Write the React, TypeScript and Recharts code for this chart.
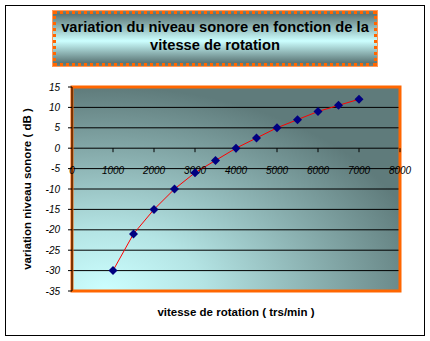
import React from "react"
import {
  LineChart,
  Line,
  XAxis,
  YAxis,
  CartesianGrid,
  ReferenceArea,
  ReferenceDot,
} from "recharts"

const speeds = [1000, 1500, 2000, 2500, 3000, 3500, 4000, 4500, 5000, 5500, 6000, 6500, 7000]
const levels = [-30, -21, -15, -10, -6, -3, 0, 2.5, 5, 7, 9, 10.5, 12]
const xTicks = [0, 1000, 2000, 3000, 4000, 5000, 6000, 7000, 8000]
const yTicks = [-35, -30, -25, -20, -15, -10, -5, 0, 5, 10, 15]

const title = ["variation du niveau sonore en fonction de la", "vitesse de rotation"]
const xTitle = "vitesse de rotation ( trs/min )"
const yTitle = "variation niveau sonore ( dB )"

const data = speeds.map((rpm, i) => ({ rpm, db: levels[i] }))

const FONT = "'Liberation Sans', Arial, sans-serif"

function Diamond(props: any) {
  const { cx, cy } = props
  if (cx == null || cy == null) return null
  return (
    <polygon
      points={`${cx},${cy - 4.5} ${cx + 4.5},${cy} ${cx},${cy + 4.5} ${cx - 4.5},${cy}`}
      fill="#000080"
    />
  )
}

function xTickShape(label: number) {
  return (props: any) => {
    const { cx, cy } = props
    return (
      <g>
        {label !== 0 && <line x1={cx} y1={cy} x2={cx} y2={cy + 4} stroke="#000" />}
        <text
          x={cx}
          y={cy + 26}
          textAnchor="middle"
          fontSize={10}
          fontStyle="italic"
          fontFamily={FONT}
          fill="#000"
        >
          {label}
        </text>
      </g>
    )
  }
}

export default function App() {
  return (
    <div
      style={{
        position: "absolute",
        left: 0,
        top: 0,
        width: 430,
        height: 341,
        background: "#fff",
        fontFamily: FONT,
      }}
    >
      <div
        style={{
          position: "absolute",
          left: 5,
          top: 5,
          width: 418,
          height: 329,
          border: "1px solid #000",
        }}
      />
      <div
        style={{
          position: "absolute",
          left: 53,
          top: 11,
          width: 318,
          height: 45,
          border: "3px dotted #ff6600",
          boxShadow: "0 0 0 1px #ff9a5a",
          background: "linear-gradient(to bottom, #5a7575 0%, #ccffff 55%, #5a7575 100%)",
          textAlign: "center",
          fontWeight: "bold",
          fontSize: 14.7,
          lineHeight: "18px",
          paddingTop: 4,
          boxSizing: "content-box",
          whiteSpace: "nowrap",
        }}
      >
        {title[0]}
        <br />
        {title[1]}
      </div>

      <LineChart
        width={430}
        height={341}
        data={data}
        margin={{ top: 87, right: 30, bottom: 50, left: 0 }}
        style={{ position: "absolute", left: 0, top: 0 }}
      >
        <defs>
          <radialGradient id="plotBg" cx="0.1" cy="1" r="1" fx="0.1" fy="1">
            <stop offset="0" stopColor="#ccffff" />
            <stop offset="0.3" stopColor="#b4e4e4" />
            <stop offset="1" stopColor="#5f7b7b" />
          </radialGradient>
        </defs>
        <CartesianGrid
          vertical={false}
          stroke="#000"
          strokeOpacity={1}
          fill="url(#plotBg)"
          fillOpacity={1}
        />
        <XAxis type="number" dataKey="rpm" domain={[0, 8000]} ticks={xTicks} hide />
        <YAxis
          type="number"
          domain={[-35, 15]}
          ticks={yTicks}
          interval={0}
          width={72}
          axisLine={{ stroke: "#000" }}
          tickLine={{ stroke: "#000" }}
          tickSize={4}
          tickMargin={8}
          tick={{ fontSize: 10, fontStyle: "italic", fontFamily: FONT, fill: "#000" }}
        />
        <ReferenceArea
          x1={0}
          x2={8000}
          y1={-35}
          y2={15}
          fill="none"
          stroke="#ff6600"
          strokeWidth={3}
        />
        {xTicks.map((t) => (
          <ReferenceDot key={t} x={t} y={0} r={0} ifOverflow="visible" shape={xTickShape(t)} />
        ))}
        <Line
          type="linear"
          dataKey="db"
          stroke="#ff0000"
          strokeWidth={1}
          dot={<Diamond />}
          activeDot={false}
          isAnimationActive={false}
        />
      </LineChart>

      <div
        style={{
          position: "absolute",
          left: 0,
          width: 472,
          top: 306,
          textAlign: "center",
          fontWeight: "bold",
          fontSize: 11.5,
        }}
      >
        {xTitle}
      </div>
      <div
        style={{
          position: "absolute",
          left: 27,
          top: 189,
          transform: "translate(-50%, -50%) rotate(-90deg)",
          whiteSpace: "nowrap",
          fontWeight: "bold",
          fontSize: 11.5,
        }}
      >
        {yTitle}
      </div>
    </div>
  )
}
